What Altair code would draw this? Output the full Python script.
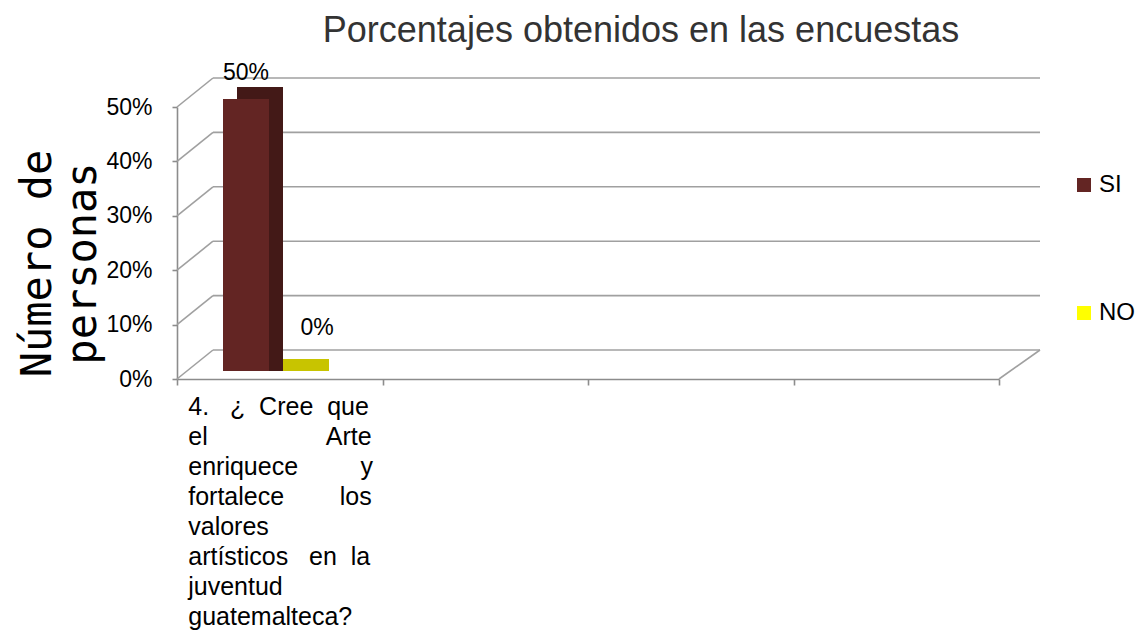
import json
import altair as alt
import pandas as pd

# ---------------- data ----------------
categories = ["P4", "P5", "P6", "P7"]
question_lines = ["4. ¿ Cree que", "el Arte", "enriquece y", "fortalece los",
                  "valores", "artísticos en la", "juventud", "guatemalteca?"]
series = ["SI", "NO"]
values = [0.50, 0.00]
y_ticks = [0.0, 0.1, 0.2, 0.3, 0.4, 0.5]
title_text = "Porcentajes obtenidos en las encuestas"
y_title = ["Número de", "personas"]

front_colors = ["#632523", "#ffff00"]
depth_colors = ["#431917", "#c8c400"]

# ---------------- layout / style ----------------
PW, PH = 822, 272
DX, DY = 36, -29          # back-wall offset of the pseudo 3D box
FONT = "Liberation Sans"
LBL = 25
GRID = "#a0a0a0"
AX = "#8c8c8c"

# Arial / Liberation Sans advance widths (units per 1000 em)
W = {" ": 278, ".": 278, "4": 556, "¿": 611, "C": 722, "A": 667, "?": 556,
     "a": 556, "c": 500, "d": 556, "e": 556, "f": 278, "g": 556, "i": 222,
     "í": 278, "j": 222, "l": 222, "m": 833, "n": 556, "o": 556, "q": 556,
     "r": 333, "s": 500, "t": 278, "u": 556, "v": 500, "y": 500}


def justify(line, target, size):
    words = line.split(" ")
    if len(words) < 2:
        return line
    base = sum(W.get(c, 556) for c in "".join(words)) * size / 1000
    gaps = len(words) - 1
    sp = 278 * size / 1000
    total = max(gaps, round((target - base) / sp))
    out = words[0]
    for i, w in enumerate(words[1:]):
        n = total // gaps + (1 if i < total % gaps else 0)
        out += "\u00a0" * n + w
    return out


label_lines = [justify(l, 184, LBL) for l in question_lines]
label_expr = "datum.value == %s ? %s : ''" % (
    json.dumps(categories[0]), json.dumps(label_lines, ensure_ascii=False))

df = pd.DataFrame({"cat": [categories[0]] * len(series), "serie": series, "valor": values})
grid_df = pd.DataFrame({"valor": y_ticks})
floor_df = pd.DataFrame({"valor": [0.0]})

yscale = alt.Scale(domain=[0, 0.5], nice=False, zero=True)
xscale = alt.Scale(domain=categories, paddingInner=0, paddingOuter=0)

x_axis = alt.Axis(tickBand="extent", labelExpr=label_expr, labelAngle=0,
                  labelAlign="left", labelOffset=-92, labelBaseline="top",
                  labelPadding=9, labelFont=FONT, labelFontSize=LBL,
                  labelLineHeight=30, labelLimit=0, labelColor="#000",
                  labelOverlap=False, labelBound=False,
                  domainColor=AX, domainWidth=1.6,
                  tickColor=AX, tickWidth=1.6, tickSize=6, grid=False)
y_axis = alt.Axis(values=y_ticks, format=".0%", labelFont=FONT, labelFontSize=23,
                  labelColor="#000", labelPadding=20, tickSize=5,
                  tickColor=AX, tickWidth=1.6,
                  domainColor=AX, domainWidth=1.6, grid=False,
                  titleFont="DejaVu Sans Mono", titleFontSize=42,
                  titleFontWeight="normal", titleColor="#000",
                  titleLineHeight=45, titleAngle=270, titleAlign="center",
                  titleBaseline="top", titleX=-160, titleY=156)

X = alt.X("cat:N", scale=xscale, title=None, axis=x_axis)
Y = alt.Y("valor:Q", scale=yscale, title=y_title, axis=y_axis)


def xo(rng):
    return alt.XOffset("serie:N", scale=alt.Scale(domain=series, range=rng))


FRONT_RANGE = [46, 138]
DEPTH_RANGE = [60, 152]

base = alt.Chart(df)

# back-wall gridlines
grid = alt.Chart(grid_df).mark_rule(color=GRID, strokeWidth=1.6, yOffset=DY).encode(
    y=Y, x=alt.value(DX), x2=alt.value(PW + 41))

# side-wall diagonals
diag = alt.Chart(grid_df).mark_rule(color=GRID, strokeWidth=1.6, y2Offset=DY).encode(
    y=Y, y2="valor:Q", x=alt.value(0), x2=alt.value(DX))

# right floor diagonal
rdiag = alt.Chart(floor_df).mark_rule(color=GRID, strokeWidth=1.6, y2Offset=DY).encode(
    y=Y, y2="valor:Q", x=alt.value(PW), x2=alt.value(PW + 41))

# depth (top + side faces)
depth = base.mark_bar(yOffset=-20, y2Offset=-8).encode(
    x=X, xOffset=xo(DEPTH_RANGE), y=Y, y2=alt.datum(0),
    color=alt.Color("serie:N", scale=alt.Scale(domain=series, range=depth_colors), legend=None))

# front faces
front = base.mark_bar(yOffset=-8, y2Offset=-8).encode(
    x=X, xOffset=xo(FRONT_RANGE), y=Y, y2=alt.datum(0),
    color=alt.Color("serie:N", scale=alt.Scale(domain=series, range=front_colors),
                    legend=alt.Legend(orient="none", legendX=895, legendY=66, title=None,
                                      symbolType="square", symbolSize=196,
                                      symbolStrokeWidth=0, labelFont=FONT,
                                      labelFontSize=24, labelColor="#000",
                                      rowPadding=104, padding=0, labelOffset=3,
                                      direction="vertical")))

lab_si = base.transform_filter(alt.datum.serie == "SI").mark_text(
    font=FONT, fontSize=23, color="#000", dy=-34, baseline="middle").encode(
    x=X, xOffset=xo(FRONT_RANGE), y=Y, text=alt.Text("valor:Q", format=".0%"))

lab_no = base.transform_filter(alt.datum.serie == "NO").mark_text(
    font=FONT, fontSize=23, color="#000", dx=25, dy=-51, baseline="middle").encode(
    x=X, xOffset=xo(FRONT_RANGE), y=Y, text=alt.Text("valor:Q", format=".0%"))

bars = alt.layer(depth, front, lab_si, lab_no).resolve_scale(
    color="independent", xOffset="independent")

chart = alt.layer(grid, diag, rdiag, bars).resolve_scale(
    color="independent", xOffset="independent"
).properties(
    width=PW, height=PH,
    title=alt.Title(title_text, font=FONT, fontSize=36, fontWeight="normal",
                    color="#333333", anchor="middle", dx=53, offset=12),
    autosize=alt.AutoSizeParams(type="none"),
    padding={"left": 169, "top": 99, "right": 140, "bottom": 254},
).configure_view(stroke=None)

chart.save("out.html", embed_options={"renderer": "svg", "actions": False})
